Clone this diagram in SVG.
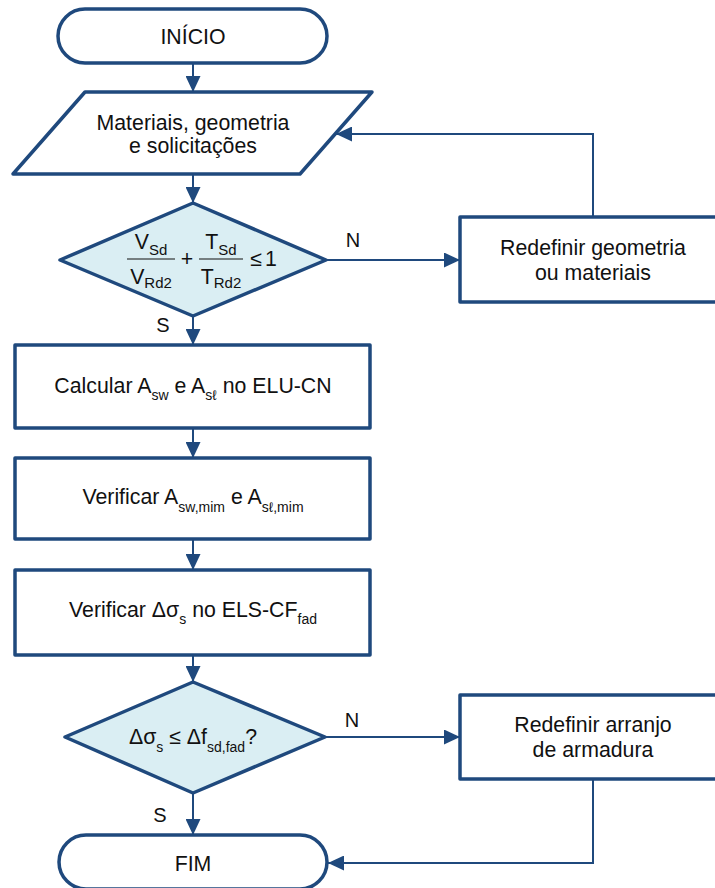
<svg xmlns="http://www.w3.org/2000/svg" width="715" height="888" viewBox="0 0 715 888">
  <style>
    .shape { fill: #ffffff; stroke: #1F497D; stroke-width: 3.5; stroke-linejoin: round; }
    .decision { fill: #DAEEF3; stroke: #1F497D; stroke-width: 3.5; stroke-linejoin: round; }
    .link { fill: none; stroke: #1F497D; stroke-width: 2; }
    text { font-family: "Liberation Sans", Arial, "DejaVu Sans", sans-serif; font-size: 21.3px; fill: #111111; }
    .c { text-anchor: middle; }
    .lbl { font-size: 20px; }
    .sub { font-size: 14px; }
  </style>
  <defs>
    <marker id="arrow" viewBox="0 0 16 15" refX="16" refY="7.5" markerWidth="16" markerHeight="15" markerUnits="userSpaceOnUse" orient="auto">
      <path d="M0,0 L16,7.5 L0,15 z" fill="#1F497D"/>
    </marker>
  </defs>

  <!-- connectors -->
  <g id="connectors">
    <line class="link" x1="193" y1="63" x2="193" y2="92" marker-end="url(#arrow)"/>
    <line class="link" x1="193" y1="174" x2="193" y2="203" marker-end="url(#arrow)"/>
    <line class="link" x1="326" y1="260" x2="460" y2="260" marker-end="url(#arrow)"/>
    <polyline class="link" points="593,217 593,134 336,134" marker-end="url(#arrow)"/>
    <line class="link" x1="193" y1="316" x2="193" y2="345" marker-end="url(#arrow)"/>
    <line class="link" x1="193" y1="428" x2="193" y2="458" marker-end="url(#arrow)"/>
    <line class="link" x1="193" y1="539" x2="193" y2="570" marker-end="url(#arrow)"/>
    <line class="link" x1="193" y1="655" x2="193" y2="682" marker-end="url(#arrow)"/>
    <line class="link" x1="325" y1="737" x2="460" y2="737" marker-end="url(#arrow)"/>
    <line class="link" x1="193" y1="793" x2="193" y2="835" marker-end="url(#arrow)"/>
    <polyline class="link" points="593,779 593,863 328,863" marker-end="url(#arrow)"/>
    <text class="c lbl" x="353" y="247">N</text>
    <text class="c lbl" x="163" y="332">S</text>
    <text class="c lbl" x="352" y="727">N</text>
    <text class="c lbl" x="160" y="822">S</text>
  </g>

  <!-- start -->
  <g id="inicio">
    <rect class="shape" x="58" y="9" width="269" height="54" rx="27" ry="27"/>
    <text class="c" x="193" y="44">INÍCIO</text>
  </g>

  <!-- input data -->
  <g id="entrada">
    <polygon class="shape" points="85,92 372,92 300,174 13,174"/>
    <text class="c" x="193" y="130">Materiais, geometria</text>
    <text class="c" x="193" y="153">e solicitações</text>
  </g>

  <!-- first check: combined shear and torsion -->
  <g id="verificacao-bielas">
    <polygon class="decision" points="193,203 326,260 193,316 60,260"/>
    <line x1="127" y1="259" x2="175" y2="259" stroke="#111111" stroke-width="1.2"/>
    <text class="c" x="151" y="249" font-size="21">V<tspan dy="6" font-size="15">Sd</tspan></text>
    <text class="c" x="151" y="284" font-size="21">V<tspan dy="4" font-size="15">Rd2</tspan></text>
    <text class="c" x="187" y="266" font-size="19">+</text>
    <line x1="199" y1="259" x2="243" y2="259" stroke="#111111" stroke-width="1.2"/>
    <text class="c" x="221" y="249" font-size="21">T<tspan dy="6" font-size="15">Sd</tspan></text>
    <text class="c" x="221" y="284" font-size="21">T<tspan dy="4" font-size="15">Rd2</tspan></text>
    <text class="c" x="256" y="266" font-size="18">≤</text>
    <text class="c" x="271" y="266" font-size="21">1</text>
  </g>

  <!-- redefine geometry -->
  <g id="redefinir-geometria">
    <rect class="shape" x="460" y="217" width="268" height="85"/>
    <text class="c" x="593" y="255">Redefinir geometria</text>
    <text class="c" x="593" y="280">ou materiais</text>
  </g>

  <!-- ULS design -->
  <g id="calcular-elu">
    <rect class="shape" x="15" y="345" width="355" height="83"/>
    <text class="c" x="193" y="393">Calcular A<tspan class="sub" dy="7">sw</tspan><tspan dy="-7"> e A</tspan><tspan class="sub" dy="7">sℓ</tspan><tspan dy="-7"> no ELU-CN</tspan></text>
  </g>

  <!-- minimum reinforcement -->
  <g id="verificar-minimos">
    <rect class="shape" x="15" y="458" width="355" height="81"/>
    <text class="c" x="193" y="504">Verificar A<tspan class="sub" dy="8">sw,mim</tspan><tspan dy="-8"> e A</tspan><tspan class="sub" dy="8">sℓ,mim</tspan></text>
  </g>

  <!-- fatigue stress range -->
  <g id="verificar-fadiga">
    <rect class="shape" x="15" y="570" width="355" height="85"/>
    <text class="c" x="193" y="617">Verificar Δσ<tspan class="sub" dy="7">s</tspan><tspan dy="-7"> no ELS-CF</tspan><tspan class="sub" dy="7">fad</tspan></text>
  </g>

  <!-- second check: fatigue -->
  <g id="verificacao-fadiga">
    <polygon class="decision" points="193,682 325,737 193,793 65,737"/>
    <text class="c" x="193" y="744">Δσ<tspan class="sub" dy="8">s</tspan><tspan dy="-8"> ≤ Δf</tspan><tspan class="sub" dy="8">sd,fad</tspan><tspan dy="-8">?</tspan></text>
  </g>

  <!-- redefine reinforcement layout -->
  <g id="redefinir-arranjo">
    <rect class="shape" x="460" y="695" width="268" height="84"/>
    <text class="c" x="593" y="732">Redefinir arranjo</text>
    <text class="c" x="593" y="757">de armadura</text>
  </g>

  <!-- end -->
  <g id="fim">
    <rect class="shape" x="59" y="835" width="268" height="54" rx="27" ry="27"/>
    <text class="c" x="193" y="871">FIM</text>
  </g>
</svg>
